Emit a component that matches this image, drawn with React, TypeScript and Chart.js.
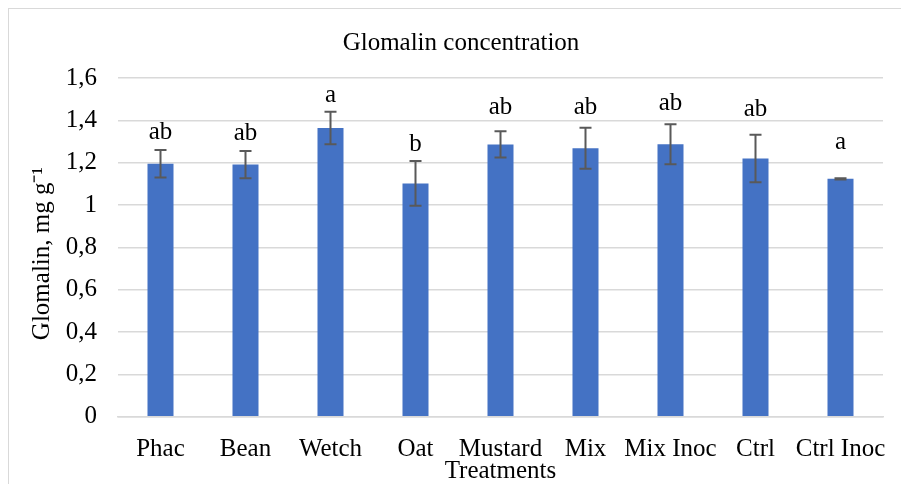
import React, { useEffect, useRef } from "react";
import { Chart, registerables } from "chart.js";

Chart.register(...registerables);

const categories = ["Phac", "Bean", "Wetch", "Oat", "Mustard", "Mix", "Mix Inoc", "Ctrl", "Ctrl Inoc"];
const glomalin = [1.195, 1.191, 1.364, 1.102, 1.286, 1.268, 1.287, 1.220, 1.124];
const errors = [0.065, 0.064, 0.077, 0.106, 0.062, 0.097, 0.094, 0.112, 0.003];
const letters = ["ab", "ab", "a", "b", "ab", "ab", "ab", "ab", "a"];
const letterAt = [1.310, 1.308, 1.486, 1.255, 1.428, 1.431, 1.451, 1.420, 1.266];
const yTickLabels = ["0", "0,2", "0,4", "0,6", "0,8", "1", "1,2", "1,4", "1,6"];

const FONT = "'Liberation Serif', 'Times New Roman', serif";
const FS = 25;

const overlayPlugin = {
  id: "errAndLetters",
  afterDatasetsDraw(chart: any) {
    const ctx = chart.ctx;
    const x = chart.scales.x;
    const y = chart.scales.y;
    ctx.save();
    ctx.strokeStyle = "#595959";
    ctx.lineWidth = 2;
    for (let i = 0; i < glomalin.length; i++) {
      const cx = x.getPixelForValue(i);
      const top = y.getPixelForValue(glomalin[i] + errors[i]);
      const bot = y.getPixelForValue(glomalin[i] - errors[i]);
      ctx.beginPath();
      ctx.moveTo(cx, top);
      ctx.lineTo(cx, bot);
      ctx.moveTo(cx - 6, top);
      ctx.lineTo(cx + 6, top);
      ctx.moveTo(cx - 6, bot);
      ctx.lineTo(cx + 6, bot);
      ctx.stroke();
    }
    ctx.fillStyle = "#000";
    ctx.font = `${FS}px ${FONT}`;
    ctx.textAlign = "center";
    ctx.textBaseline = "alphabetic";
    for (let i = 0; i < letters.length; i++) {
      const cx = x.getPixelForValue(i);
      ctx.fillText(letters[i], cx, y.getPixelForValue(letterAt[i]));
    }
    ctx.restore();
  },
};

export default function App() {
  const ref = useRef<HTMLCanvasElement | null>(null);
  useEffect(() => {
    if (!ref.current) return;
    const chart = new Chart(ref.current, {
      type: "bar",
      data: {
        labels: categories,
        datasets: [
          {
            label: "Glomalin",
            data: glomalin,
            backgroundColor: "#4472C4",
            borderWidth: 0,
            barPercentage: 0.306,
            categoryPercentage: 1,
          },
        ],
      },
      options: {
        animation: false,
        responsive: false,
        maintainAspectRatio: false,
        layout: { padding: { left: 30, right: 24, top: 0, bottom: 0 } },
        plugins: {
          legend: { display: false },
          tooltip: { enabled: false },
          title: {
            display: true,
            text: "Glomalin concentration",
            color: "#000",
            font: { family: FONT, size: FS, weight: "normal" },
            padding: { top: 19, bottom: 20 },
          },
        },
        scales: {
          x: {
            grid: { display: false },
            border: { display: true, color: "#d9d9d9", width: 1.5 },
            ticks: {
              color: "#000",
              font: { family: FONT, size: FS },
              padding: 10,
              maxRotation: 0,
              autoSkip: false,
            },
            title: {
              display: true,
              text: "Treatments",
              color: "#000",
              font: { family: FONT, size: FS },
              padding: { top: 0, bottom: 11 },
            },
            afterFit(scale: any) {
              scale.height = 80.3;
            },
          },
          y: {
            min: 0,
            max: 1.6,
            grid: { color: "#d9d9d9", lineWidth: 1.5, drawTicks: false },
            border: { display: false },
            ticks: {
              stepSize: 0.2,
              color: "#000",
              font: { family: FONT, size: FS },
              padding: 21,
              callback: (v: any) => yTickLabels[Math.round(Number(v) / 0.2)],
            },
            title: {
              display: true,
              text: "Glomalin, mg g⁻¹\u2002",
              color: "#000",
              font: { family: FONT, size: FS },
              padding: { top: -12, bottom: 0 },
            },
            afterFit(scale: any) {
              scale.width = 79;
            },
          },
        },
      },
      plugins: [overlayPlugin],
    });
    return () => chart.destroy();
  }, []);
  return (
    <div
      style={{
        position: "fixed",
        left: 8,
        top: 8,
        width: 900,
        height: 490,
        border: "1px solid #d9d9d9",
        boxSizing: "border-box",
        background: "#fff",
      }}
    >
      <canvas ref={ref} width={898} height={488} style={{ display: "block" }} />
    </div>
  );
}
